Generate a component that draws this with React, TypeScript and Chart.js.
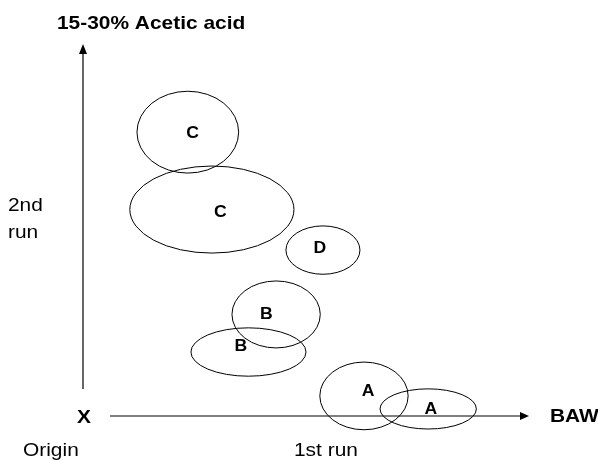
import React, { useEffect, useRef } from "react";
import { Chart, registerables } from "chart.js";

Chart.register(...registerables);

// ---- data (units of the two runs, origin at 0,0) ----
const groups = ["C", "C", "D", "B", "B", "A", "A"];
const centerX = [2.35, 2.89, 5.38, 4.33, 3.71, 6.3, 7.74];
const centerY = [7.63, 5.55, 4.46, 2.73, 1.72, 0.54, 0.19];
const radiusX = [1.14, 1.84, 0.83, 0.99, 1.29, 0.99, 1.08];
const radiusY = [1.1, 1.17, 0.65, 0.9, 0.65, 0.91, 0.54];
const labelX = [2.46, 3.08, 5.31, 4.11, 3.54, 6.39, 7.8];
const labelY = [7.63, 5.52, 4.54, 2.76, 1.9, 0.7, 0.22];
const axisMin = 0;
const axisMax = 10;

const titleText = "15-30% Acetic acid";
const xAxisName = "BAW";
const xRunLabel = "1st run";
const yRunLabel = ["2nd", "run"];
const originMark = "X";
const originLabel = "Origin";

const FONT = '"Liberation Sans", Arial, Helvetica, sans-serif';
const STRETCH = 1.1;

function drawText(
  ctx: CanvasRenderingContext2D,
  text: string,
  x: number,
  y: number,
  size: number,
  bold: boolean,
  align: CanvasTextAlign = "left",
  baseline: CanvasTextBaseline = "alphabetic"
) {
  ctx.save();
  ctx.translate(x, y);
  ctx.scale(STRETCH, 1);
  ctx.font = `${bold ? "bold " : ""}${size}px ${FONT}`;
  ctx.fillStyle = "#000";
  ctx.textAlign = align;
  ctx.textBaseline = baseline;
  ctx.fillText(text, 0, 0);
  ctx.restore();
}

const diagramPlugin = {
  id: "diagram",
  afterDatasetsDraw(chart: any) {
    const ctx: CanvasRenderingContext2D = chart.ctx;
    const xs = chart.scales.x;
    const ys = chart.scales.y;
    const { left, right, top, bottom } = chart.chartArea;

    ctx.save();
    ctx.strokeStyle = "#000";
    ctx.fillStyle = "#000";
    ctx.lineWidth = 1.2;

    // vertical axis with arrow
    ctx.beginPath();
    ctx.moveTo(left, bottom - 27);
    ctx.lineTo(left, top + 9);
    ctx.stroke();
    ctx.beginPath();
    ctx.moveTo(left, top);
    ctx.lineTo(left - 4, top + 10);
    ctx.lineTo(left + 4, top + 10);
    ctx.closePath();
    ctx.fill();

    // horizontal axis with arrow
    ctx.beginPath();
    ctx.moveTo(left + 27, bottom);
    ctx.lineTo(right - 7, bottom);
    ctx.stroke();
    ctx.beginPath();
    ctx.moveTo(right, bottom);
    ctx.lineTo(right - 9, bottom - 4);
    ctx.lineTo(right - 9, bottom + 4);
    ctx.closePath();
    ctx.fill();

    // ellipses
    ctx.lineWidth = 1;
    for (let i = 0; i < groups.length; i++) {
      const px = xs.getPixelForValue(centerX[i]);
      const py = ys.getPixelForValue(centerY[i]);
      const rx = Math.abs(xs.getPixelForValue(centerX[i] + radiusX[i]) - px);
      const ry = Math.abs(ys.getPixelForValue(centerY[i] + radiusY[i]) - py);
      ctx.beginPath();
      ctx.ellipse(px, py, rx, ry, 0, 0, Math.PI * 2);
      ctx.stroke();
    }
    ctx.restore();

    // ellipse labels
    for (let i = 0; i < groups.length; i++) {
      drawText(
        ctx,
        groups[i],
        xs.getPixelForValue(labelX[i]),
        ys.getPixelForValue(labelY[i]) + 6,
        16,
        true,
        "center",
        "alphabetic"
      );
    }

    // texts
    drawText(ctx, titleText, 57, 29, 19, true);
    drawText(ctx, yRunLabel[0], 8, 211, 19, false);
    drawText(ctx, yRunLabel[1], 8, 238, 19, false);
    drawText(ctx, originMark, 77, bottom + 7, 19, true);
    drawText(ctx, originLabel, 23, 456, 19, false);
    drawText(ctx, xRunLabel, 294, 456, 19, false);
    drawText(ctx, xAxisName, 550, bottom + 6, 19, true);
  },
};

export default function App() {
  const ref = useRef<HTMLCanvasElement | null>(null);

  useEffect(() => {
    if (!ref.current) return;
    const chart = new Chart(ref.current, {
      type: "scatter",
      data: {
        datasets: [
          {
            label: "groups",
            data: centerX.map((x, i) => ({ x, y: centerY[i] })),
            pointRadius: 0,
            pointHoverRadius: 0,
            showLine: false,
          },
        ],
      },
      options: {
        animation: false,
        responsive: false,
        devicePixelRatio: 1,
        layout: { padding: { left: 83, right: 69, top: 44, bottom: 44 } },
        scales: {
          x: { type: "linear", min: axisMin, max: axisMax, display: false },
          y: { type: "linear", min: axisMin, max: axisMax, display: false },
        },
        plugins: {
          legend: { display: false },
          tooltip: { enabled: false },
        },
        events: [],
      },
      plugins: [diagramPlugin],
    });
    return () => chart.destroy();
  }, []);

  return (
    <div style={{ position: "absolute", left: 0, top: 0, width: 598, height: 460, background: "#fff" }}>
      <canvas ref={ref} width={598} height={460} style={{ width: 598, height: 460 }} />
    </div>
  );
}
